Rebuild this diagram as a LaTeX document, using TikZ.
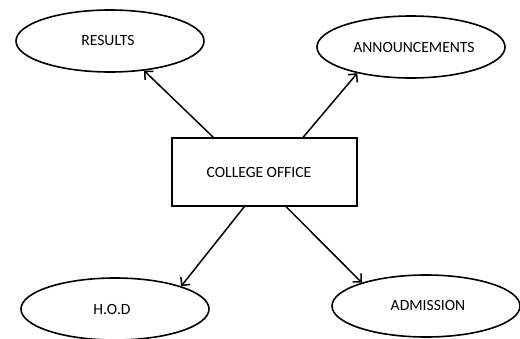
\documentclass[tikz,border=0pt]{standalone}
\usepackage{fontspec}
\setmainfont{Carlito}
\usetikzlibrary{shapes.geometric,arrows.meta}
\begin{document}
\begin{tikzpicture}[x=1pt,y=-1pt,
  every node/.style={font=\fontsize{15.6}{18}\selectfont},
  bubble/.style={draw,line width=1.6pt,ellipse,minimum width=188pt,minimum height=62pt,inner sep=0pt},
  officebox/.style={draw,line width=1.6pt,rectangle,minimum width=185pt,minimum height=68pt,inner sep=0pt},
  link/.style={line width=1.5pt,-{Straight Barb[length=6pt,width=12pt,line width=1.5pt]}}]
  \useasboundingbox (0,0) rectangle (520,338);
  \fill[white] (0,0) rectangle (520,338);
  \clip (0,0) rectangle (520,338);

  \node[officebox] (office) at (264.5,172) {};
  \node (officetext) at (259,172) {COLLEGE OFFICE};

  \node[bubble] (results) at (110,41) {};
  \node (resultstext) at (108,40) {RESULTS};
  \node[bubble] (announce) at (411,47) {};
  \node (announcetext) at (414,47) {ANNOUNCEMENTS};
  \node[bubble] (hod) at (115,309) {};
  \node (hodtext) at (112,309) {H.O.D};
  \node[bubble] (admission) at (426,306) {};
  \node (admissiontext) at (428,305) {ADMISSION};

  \coordinate (s1) at ([xshift=42pt]office.north west);
  \coordinate (s2) at ([xshift=132pt]office.north west);
  \coordinate (s3) at ([xshift=73pt]office.south west);
  \coordinate (s4) at ([xshift=115pt]office.south west);

  \draw[link] (s1) -- (results.-41);
  \draw[link] (s2) -- (announce.206);
  \draw[link] (s3) -- (hod.19.5);
  \draw[link] (s4) -- (admission.160.4);
\end{tikzpicture}
\end{document}
